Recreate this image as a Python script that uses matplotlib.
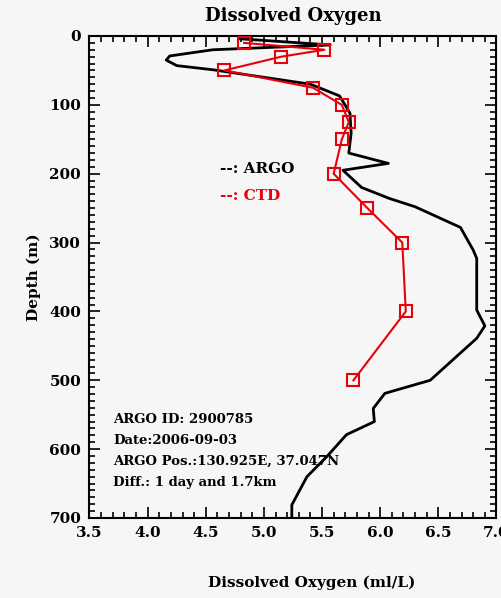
import matplotlib
matplotlib.use("Agg")
import matplotlib.pyplot as plt
from matplotlib.ticker import MultipleLocator

# CTD cast (standard depths)
ctd_depth = [10, 20, 30, 50, 75, 100, 125, 150, 200, 250, 300, 400, 500]
ctd_oxygen = [4.83, 5.52, 5.15, 4.66, 5.42, 5.67, 5.73, 5.67, 5.60, 5.89, 6.19, 6.22, 5.77]

# ARGO float profile
argo_depth = [4, 13, 20, 29, 35, 43, 49, 70, 87, 112, 141, 170, 185, 195, 220,
              236, 248, 278, 311, 323, 398, 421, 439, 500, 519, 541, 560, 579,
              611, 640, 681, 700]
argo_oxygen = [4.79, 5.57, 4.56, 4.19, 4.16, 4.25, 4.56, 5.40, 5.65, 5.74, 5.75,
               5.73, 6.07, 5.68, 5.84, 6.08, 6.30, 6.69, 6.80, 6.83, 6.83, 6.90,
               6.83, 6.43, 6.04, 5.94, 5.95, 5.71, 5.54, 5.37, 5.24, 5.24]

info_lines = ["ARGO ID: 2900785", "Date:2006-09-03",
              "ARGO Pos.:130.925E, 37.047N", "Diff.: 1 day and 1.7km"]

bg = "#f6f6f6"
font = {"family": "DejaVu Serif", "weight": "bold"}

fig = plt.figure(figsize=(5.01, 5.98), dpi=100, facecolor=bg)
ax = fig.add_axes([0.1786, 0.1338, 0.8124, 0.806], facecolor=bg)

ax.plot(argo_oxygen, argo_depth, color="black", lw=2.0, zorder=3)
ax.plot(ctd_oxygen, ctd_depth, color="#e8000b", lw=1.5, marker="s", ms=9,
        mfc="none", mec="#e8000b", mew=1.5, zorder=4)

ax.set_xlim(3.5, 7.0)
ax.set_ylim(700, 0)
ax.xaxis.set_major_locator(MultipleLocator(0.5))
ax.xaxis.set_minor_locator(MultipleLocator(0.1))
ax.yaxis.set_major_locator(MultipleLocator(100))
ax.yaxis.set_minor_locator(MultipleLocator(10))
ax.tick_params(which="both", direction="in", top=True, right=True, width=1.2,
               color="black")
ax.tick_params(which="major", length=8, pad=6)
ax.tick_params(which="minor", length=4)
for sp in ax.spines.values():
    sp.set_linewidth(1.5)

ax.set_xticklabels([f"{v:.1f}" for v in ax.get_xticks()], **font, fontsize=11)
ax.set_yticklabels([f"{int(v)}" for v in ax.get_yticks()], **font, fontsize=11)

ax.set_title("Dissolved Oxygen", **font, fontsize=13, pad=11)
ax.text(0.545, -0.135, "Dissolved Oxygen (ml/L)", transform=ax.transAxes,
        ha="center", va="center", fontsize=11, **font)
ax.set_ylabel("Depth (m)", **font, fontsize=11, labelpad=6)

ax.text(0.32, 0.725, "--: ARGO", transform=ax.transAxes, color="black",
        fontsize=11, va="center", **font)
ax.text(0.32, 0.668, "--: CTD", transform=ax.transAxes, color="#e8000b",
        fontsize=11, va="center", **font)

for i, line in enumerate(info_lines):
    ax.text(0.058, 0.205 - i * 0.0435, line, transform=ax.transAxes,
            fontsize=9.5, va="center", zorder=2, **font)

fig.savefig("out.png", dpi=100, facecolor=bg)
